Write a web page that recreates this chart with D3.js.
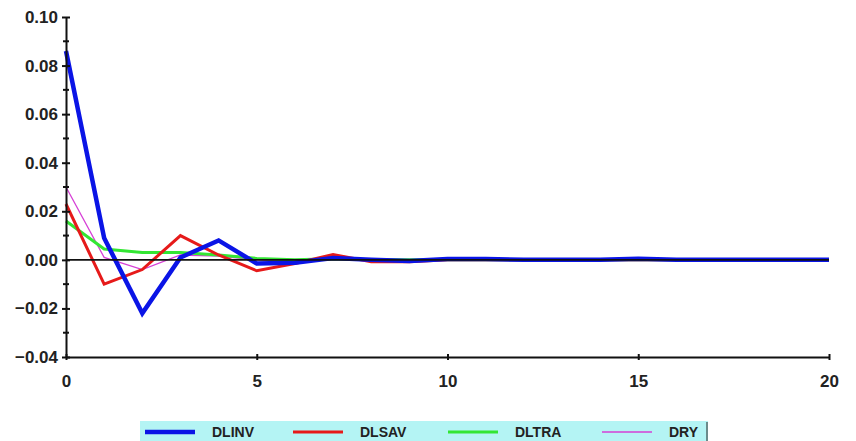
<html>
<head>
<meta charset="utf8">
<title>impulse responses</title>
<style>
body { margin:0; background:white; }
text { font-family:"Liberation Sans", Arial, sans-serif; font-weight:bold; fill:#222; }
</style>
<script src="https://d3js.org/d3.v7.min.js"></script>
</head>
<body>
<div id="chart"></div>
<script>
// horizon 0..20
var periods = d3.range(0, 21);
var names = ["DLINV", "DLSAV", "DLTRA", "DRY"];
var colors = ["#0a14e6", "#e61a1a", "#33e633", "#d640d6"];
var widths = [4.5, 3, 3, 1.3];

var dlinv = [0.086, 0.009, -0.022, 0.001, 0.008, -0.0015, -0.0012, 0.0008, 0.0, -0.0005, 0.0004, 0.0004, 0.0, 0.0, 0.0, 0.0005, 0.0, 0.0, 0.0, 0.0, 0.0];
var dlsav = [0.023, -0.010, -0.004, 0.010, 0.002, -0.0045, -0.0015, 0.0022, -0.0008, -0.0008, 0.0, 0.0, 0.0, 0.0, 0.0, 0.0, 0.0, 0.0, 0.0, 0.0, 0.0];
var dltra = [0.016, 0.0045, 0.003, 0.003, 0.002, 0.0006, 0.0, 0.0005, 0.0, 0.0, 0.0, 0.0, 0.0, 0.0, 0.0, 0.0, 0.0, 0.0, 0.0, 0.0, 0.0];
var dry = [0.030, 0.001, -0.004, 0.002, 0.0015, 0.0, -0.0008, 0.0008, 0.0, 0.0, 0.0, 0.0, 0.0, 0.0, 0.0, 0.0, 0.0, 0.0, 0.0, 0.0, 0.0];
var series = [dlinv, dlsav, dltra, dry];

var yTicks = [-0.04, -0.02, 0.00, 0.02, 0.04, 0.06, 0.08, 0.10];
var yMinor = [-0.03, -0.01, 0.01, 0.03, 0.05, 0.07, 0.09];
var xTicks = [0, 5, 10, 15, 20];

var width = 856, height = 441;
var svg = d3.select("#chart").append("svg")
  .attr("width", width).attr("height", height);

var x = d3.scaleLinear().domain([0, 20]).range([66, 829]);
var y = d3.scaleLinear().domain([-0.04, 0.10]).range([357, 17]);

// series lines
var line = d3.line().x(function(d, i){ return x(periods[i]); }).y(function(d){ return y(d); });
for (var k = series.length - 1; k >= 0; k--) {
  svg.append("path")
    .datum(series[k])
    .attr("d", line)
    .attr("fill", "none")
    .attr("stroke", colors[k])
    .attr("stroke-width", widths[k])
    .attr("stroke-linejoin", "miter");
}

// zero line (on top, as in the original)
svg.append("line")
  .attr("x1", x(0)).attr("x2", x(20))
  .attr("y1", y(0)).attr("y2", y(0))
  .attr("stroke", "#111").attr("stroke-width", 1.6);

// y axis
var yAxis = d3.axisLeft(y).tickValues(yTicks).tickFormat(d3.format(".2f")).tickSizeInner(4).tickSizeOuter(0).tickPadding(4);
var gy = svg.append("g").attr("transform", "translate(" + x(0) + ",0)").call(yAxis);
gy.selectAll("text").attr("font-size", 17).attr("font-family", "Liberation Sans, Arial, sans-serif").attr("font-weight", "bold").attr("fill", "#2a2a2a");
gy.select(".domain").attr("stroke", "#111").attr("stroke-width", 2);
gy.selectAll(".tick line").attr("x1", -4).attr("x2", 4).attr("stroke", "#111").attr("stroke-width", 2);
gy.selectAll(".minor").data(yMinor).enter().append("line")
  .attr("x1", -3).attr("x2", 3)
  .attr("y1", function(d){ return y(d); }).attr("y2", function(d){ return y(d); })
  .attr("stroke", "#111").attr("stroke-width", 2);

// x axis
var xAxis = d3.axisBottom(x).tickValues(xTicks).tickFormat(d3.format("d")).tickSizeInner(4).tickSizeOuter(0);
var gx = svg.append("g").attr("transform", "translate(0," + y(-0.04) + ")").call(xAxis);
gx.selectAll("text").attr("y", 30).attr("dy", 0).attr("font-size", 17).attr("font-family", "Liberation Sans, Arial, sans-serif").attr("font-weight", "bold").attr("fill", "#2a2a2a");
gx.select(".domain").attr("stroke", "#111").attr("stroke-width", 2);
gx.selectAll(".tick line").attr("y1", -3).attr("y2", 3).attr("stroke", "#111").attr("stroke-width", 2);

// legend
var lg = svg.append("g");
lg.append("rect").attr("x", 140).attr("y", 421).attr("width", 568).attr("height", 20).attr("fill", "#b4f4f4");
lg.append("line").attr("x1", 707).attr("x2", 707).attr("y1", 422).attr("y2", 441).attr("stroke", "#222").attr("stroke-width", 1);
var legX = [145, 293, 448, 602];
names.forEach(function(n, i){
  lg.append("line")
    .attr("x1", legX[i]).attr("x2", legX[i] + 50)
    .attr("y1", 432).attr("y2", 432)
    .attr("stroke", colors[i]).attr("stroke-width", widths[i]);
  lg.append("text")
    .attr("x", legX[i] + 67).attr("y", 437)
    .attr("font-size", 14)
    .attr("fill", "#1a2a3a")
    .text(n);
});
</script>
</body>
</html>
